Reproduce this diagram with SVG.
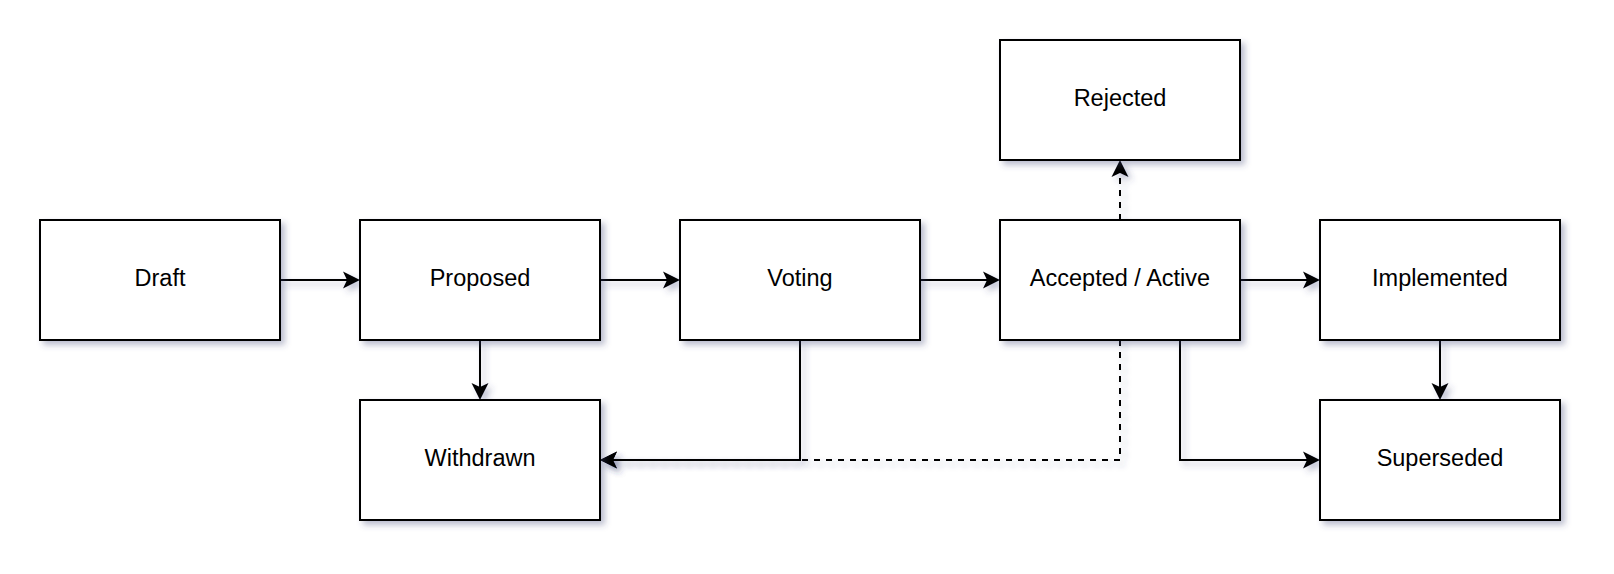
<svg xmlns="http://www.w3.org/2000/svg" width="1614" height="574" viewBox="0 0 1614 574">
<style>
.node rect{fill:#ffffff;stroke:#000000;stroke-width:2;filter:url(#sh)}
.node text{font-family:"Liberation Sans",Arial,Helvetica,sans-serif;font-size:23.5px;fill:#000000;text-anchor:middle}
.edge{fill:none;stroke:#000000;stroke-width:2;filter:url(#sh);marker-end:url(#arr)}
.dash{stroke-dasharray:6 6}
</style>
<defs>
<filter id="sh" filterUnits="userSpaceOnUse" x="0" y="0" width="1614" height="574">
<feDropShadow dx="4" dy="4" stdDeviation="3" flood-color="#3D4574" flood-opacity="0.35"/>
</filter>
<marker id="arr" markerUnits="userSpaceOnUse" viewBox="0 0 18 18" markerWidth="18" markerHeight="18" refX="13" refY="9" orient="auto">
<path d="M17,9 L0,0.5 L4,9 L0,17.5 Z" fill="#000000"/>
</marker>
</defs>
<rect width="1614" height="574" fill="#ffffff"/>
<g id="connectors">
<path class="edge" d="M280,280 L356,280"/>
<path class="edge" d="M600,280 L676,280"/>
<path class="edge" d="M920,280 L996,280"/>
<path class="edge" d="M1240,280 L1316,280"/>
<path class="edge" d="M480,340 L480,396"/>
<path class="edge" d="M1440,340 L1440,396"/>
<path class="edge dash" d="M1120,340 L1120,460 L604,460"/>
<path class="edge" d="M800,340 L800,460 L604,460"/>
<path class="edge dash" d="M1120,220 L1120,164"/>
<path class="edge" d="M1180,340 L1180,460 L1316,460"/>
</g>
<g id="draft" class="node"><rect x="40" y="220" width="240" height="120"/><text x="160" y="285.5">Draft</text></g>
<g id="proposed" class="node"><rect x="360" y="220" width="240" height="120"/><text x="480" y="285.5">Proposed</text></g>
<g id="voting" class="node"><rect x="680" y="220" width="240" height="120"/><text x="800" y="285.5">Voting</text></g>
<g id="accepted" class="node"><rect x="1000" y="220" width="240" height="120"/><text x="1120" y="285.5">Accepted / Active</text></g>
<g id="implemented" class="node"><rect x="1320" y="220" width="240" height="120"/><text x="1440" y="285.5">Implemented</text></g>
<g id="rejected" class="node"><rect x="1000" y="40" width="240" height="120"/><text x="1120" y="105.5">Rejected</text></g>
<g id="withdrawn" class="node"><rect x="360" y="400" width="240" height="120"/><text x="480" y="465.5">Withdrawn</text></g>
<g id="superseded" class="node"><rect x="1320" y="400" width="240" height="120"/><text x="1440" y="465.5">Superseded</text></g>
</svg>
